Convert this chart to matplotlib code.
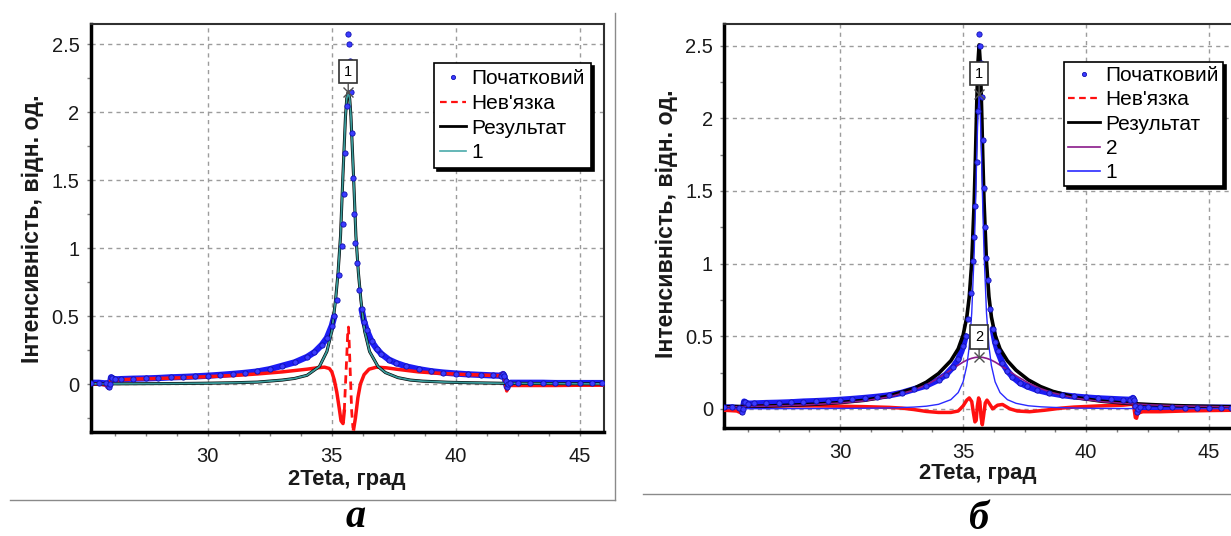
import numpy as np
import matplotlib
matplotlib.use("Agg")
import matplotlib.pyplot as plt
from matplotlib.lines import Line2D

plt.rcParams['font.family'] = ['Liberation Sans', 'DejaVu Sans']

# ---------------- data ----------------
# experimental pattern (shared by both panels)
x_init = [25.30, 25.60, 25.90, 26.00, 26.05, 26.10, 26.15, 26.25, 26.50, 27.00, 27.50, 28.00, 28.50, 29.00,
          29.50, 30.00, 30.50, 31.00, 31.50, 32.00, 32.50, 33.00, 33.50, 34.00, 34.30, 34.60, 34.80, 35.00,
          35.10, 35.20, 35.30, 35.40, 35.45, 35.50, 35.55, 35.60, 35.63, 35.66, 35.69, 35.72, 35.76, 35.80,
          35.85, 35.90, 35.95, 36.00, 36.10, 36.20, 36.30, 36.40, 36.60, 36.80, 37.00, 37.30, 37.60, 38.00,
          38.50, 39.00, 39.50, 40.00, 40.50, 41.00, 41.50, 41.80, 41.90, 41.95, 42.00, 42.05, 42.10, 42.20,
          42.50, 43.00, 43.50, 44.00, 44.50, 45.00, 45.50, 45.90]
y_init = [0.010, 0.010, 0.005, -0.020, 0.000, 0.050, 0.045, 0.035, 0.037, 0.040, 0.042, 0.045, 0.050, 0.053,
          0.057, 0.062, 0.068, 0.075, 0.083, 0.093, 0.110, 0.135, 0.160, 0.200, 0.235, 0.290, 0.340, 0.430,
          0.500, 0.620, 0.800, 1.020, 1.180, 1.400, 1.700, 2.050, 2.300, 2.580, 2.500, 2.380, 2.150, 1.850,
          1.520, 1.250, 1.040, 0.890, 0.690, 0.550, 0.460, 0.400, 0.315, 0.262, 0.222, 0.180, 0.155, 0.130,
          0.110, 0.095, 0.085, 0.078, 0.072, 0.068, 0.064, 0.062, 0.075, 0.060, 0.020, -0.020, 0.000, 0.010,
          0.010, 0.010, 0.010, 0.008, 0.008, 0.008, 0.008, 0.008]

# panel a: one-component fit
x_fit_a = [25.30, 26.00, 27.00, 28.00, 29.00, 30.00, 31.00, 32.00, 33.00, 33.50, 34.00, 34.50, 34.80, 35.00,
           35.15, 35.25, 35.35, 35.45, 35.55, 35.60, 35.66, 35.72, 35.77, 35.87, 35.97, 36.07, 36.17, 36.32,
           36.52, 36.86, 37.16, 37.66, 38.16, 38.66, 39.66, 40.66, 42.00, 43.00, 44.00, 45.00, 45.90]
y_result_a = [0.002, 0.002, 0.003, 0.004, 0.005, 0.007, 0.010, 0.015, 0.030, 0.042, 0.065, 0.130, 0.240, 0.390,
              0.620, 0.820, 1.090, 1.550, 1.970, 2.100, 2.150, 2.100, 1.970, 1.550, 1.090, 0.820, 0.620, 0.390,
              0.240, 0.130, 0.085, 0.048, 0.030, 0.022, 0.014, 0.010, 0.006, 0.005, 0.004, 0.003, 0.002]
y_comp1_a = [0.002, 0.002, 0.003, 0.004, 0.005, 0.007, 0.010, 0.015, 0.030, 0.042, 0.065, 0.130, 0.240, 0.390,
             0.620, 0.820, 1.090, 1.550, 1.970, 2.100, 2.150, 2.100, 1.970, 1.550, 1.090, 0.820, 0.620, 0.390,
             0.240, 0.130, 0.085, 0.048, 0.030, 0.022, 0.014, 0.010, 0.006, 0.005, 0.004, 0.003, 0.002]
x_res_a = [25.30, 25.70, 25.95, 26.00, 26.05, 26.10, 26.15, 26.30, 27.00, 28.00, 29.00, 30.00, 31.00, 32.00,
           33.00, 33.50, 34.00, 34.40, 34.70, 34.90, 35.00, 35.10, 35.20, 35.30, 35.37, 35.45, 35.50, 35.55,
           35.60, 35.64, 35.67, 35.70, 35.75, 35.80, 35.85, 35.88, 35.95, 36.05, 36.15, 36.30, 36.50, 36.80,
           37.20, 37.60, 38.50, 39.50, 40.50, 41.50, 41.80, 41.90, 41.95, 42.00, 42.05, 42.10, 42.20, 43.00,
           44.00, 45.00, 45.90]
y_res_a = [0.000, 0.000, -0.010, -0.030, 0.000, 0.050, 0.040, 0.030, 0.037, 0.042, 0.047, 0.055, 0.063, 0.075,
           0.090, 0.100, 0.110, 0.120, 0.125, 0.115, 0.090, 0.030, -0.060, -0.180, -0.270, -0.290, -0.200, 0.000,
           0.200, 0.380, 0.420, 0.300, 0.050, -0.200, -0.320, -0.330, -0.250, -0.100, 0.000, 0.070, 0.110, 0.125,
           0.120, 0.110, 0.090, 0.078, 0.070, 0.064, 0.062, 0.080, 0.050, 0.000, -0.050, -0.020, -0.010, -0.010,
           -0.010, -0.008, -0.008]

# panel b: two-component fit
x_fit_b = [25.30, 26.00, 27.00, 28.00, 29.00, 30.00, 31.00, 32.00, 33.00, 33.50, 34.00, 34.50, 34.80, 35.00,
           35.15, 35.25, 35.35, 35.45, 35.50, 35.55, 35.60, 35.65, 35.70, 35.75, 35.80, 35.85, 35.95, 36.05,
           36.15, 36.30, 36.50, 36.80, 37.15, 37.65, 38.15, 38.65, 39.65, 40.65, 41.65, 42.65, 43.65, 44.65,
           45.90]
y_result_b = [0.014, 0.016, 0.019, 0.025, 0.032, 0.043, 0.059, 0.088, 0.141, 0.183, 0.243, 0.331, 0.413, 0.508,
              0.632, 0.772, 1.008, 1.427, 1.730, 2.075, 2.376, 2.506, 2.376, 2.075, 1.730, 1.427, 1.008, 0.772,
              0.632, 0.508, 0.413, 0.331, 0.266, 0.199, 0.153, 0.120, 0.076, 0.052, 0.038, 0.029, 0.022, 0.018,
              0.014]
y_comp2_b = [0.013, 0.015, 0.018, 0.023, 0.030, 0.040, 0.055, 0.082, 0.129, 0.165, 0.212, 0.268, 0.301, 0.322,
             0.335, 0.342, 0.348, 0.352, 0.354, 0.355, 0.356, 0.356, 0.356, 0.355, 0.354, 0.352, 0.348, 0.342,
             0.335, 0.322, 0.301, 0.268, 0.228, 0.178, 0.139, 0.110, 0.071, 0.049, 0.036, 0.027, 0.021, 0.017,
             0.013]
y_comp1_b = [0.001, 0.001, 0.001, 0.0015, 0.002, 0.003, 0.004, 0.006, 0.012, 0.018, 0.031, 0.063, 0.112, 0.186,
             0.297, 0.430, 0.660, 1.075, 1.376, 1.720, 2.020, 2.150, 2.020, 1.720, 1.376, 1.075, 0.660, 0.430,
             0.297, 0.186, 0.112, 0.063, 0.038, 0.021, 0.014, 0.010, 0.005, 0.003, 0.002, 0.002, 0.001, 0.001,
             0.001]
x_res_b = [25.30, 25.80, 26.00, 26.05, 26.10, 26.20, 26.50, 27.00, 28.00, 29.00, 30.00, 31.00, 32.00, 32.50,
           33.00, 33.50, 34.00, 34.50, 34.80, 35.00, 35.15, 35.25, 35.35, 35.42, 35.48, 35.53, 35.58, 35.63,
           35.68, 35.73, 35.78, 35.83, 35.90, 35.97, 36.05, 36.20, 36.40, 36.60, 36.90, 37.20, 37.70, 38.30,
           39.00, 39.50, 40.50, 41.50, 41.80, 41.90, 41.95, 42.00, 42.05, 42.10, 42.30, 43.00, 44.00, 45.00,
           45.90]
y_res_b = [-0.010, -0.015, -0.030, 0.000, 0.030, 0.020, 0.015, 0.018, 0.020, 0.020, 0.018, 0.015, 0.010, 0.005,
           -0.005, -0.018, -0.025, -0.025, -0.015, 0.020, 0.060, 0.075, 0.050, -0.030, -0.090, -0.080, 0.020,
           0.075, 0.050, -0.060, -0.110, -0.050, 0.040, 0.060, 0.040, 0.000, 0.025, 0.030, 0.000, -0.015, -0.020,
           -0.010, 0.005, 0.012, 0.020, 0.025, 0.030, 0.035, 0.000, -0.060, -0.065, -0.030, -0.020, -0.020,
           -0.015, -0.012, -0.010]

# peak markers
peak_x_a = [35.66]
peak_y_a = [2.15]
peak_lbl_a = ['1']
peak_x_b = [35.65, 35.65]
peak_y_b = [2.17, 0.356]
peak_lbl_b = ['1', '2']

# ticks / labels
x_major = [30, 35, 40, 45]
x_labels = ['30', '35', '40', '45']
x_minor = [26.25, 27.5, 28.75, 31.25, 32.5, 33.75, 36.25, 37.5, 38.75, 41.25, 42.5, 43.75]
y_major = [0, 0.5, 1, 1.5, 2, 2.5]
y_labels = ['0', '0.5', '1', '1.5', '2', '2.5']
y_minor = [-0.25, 0.25, 0.75, 1.25, 1.75, 2.25]

lbl_init = 'Початковий'
lbl_res = "Нев'язка"
lbl_fit = 'Результат'
xlabel = '2Teta, град'
ylabel = 'Інтенсивність, відн. од.'

# ---------------- figure ----------------
W, H = 1231, 536
fig = plt.figure(figsize=(W / 100, H / 100), dpi=100)


def rect(l, t, r, b):
    return [l / W, 1 - b / H, (r - l) / W, (b - t) / H]


axA = fig.add_axes(rect(90.7, 24, 604, 431.7))
axB = fig.add_axes(rect(724, 24, 1233, 427.7))

BLUE = '#1c1cf5'
RED = '#ff1010'


def style(ax, ylim):
    ax.set_xlim(25.28, 45.97)
    ax.set_ylim(*ylim)
    ax.set_xticks(x_major)
    ax.set_xticklabels(x_labels)
    ax.set_xticks(x_minor, minor=True)
    ax.set_yticks(y_major)
    ax.set_yticklabels(y_labels)
    ax.set_yticks([v for v in y_minor if ylim[0] < v < ylim[1]], minor=True)
    ax.set_axisbelow(True)
    ax.grid(True, which='major', color='#9c9c9c', linestyle=(0, (3, 3)), lw=1)
    ax.tick_params(which='major', length=3, width=1, color='#808080', labelsize=14.5,
                   labelcolor='#1a1a1a')
    ax.tick_params(axis='x', which='major', pad=8)
    ax.tick_params(axis='y', which='major', pad=5)
    ax.tick_params(which='minor', length=3, width=1, color='#808080')
    for s in ['left', 'bottom']:
        ax.spines[s].set_linewidth(2.5)
        ax.spines[s].set_color('black')
    for s in ['top', 'right']:
        ax.spines[s].set_linewidth(1.5)
        ax.spines[s].set_color('#303030')


def draw_initial(ax):
    yi = np.array(y_init)
    band = np.where(yi < 0.6, yi, np.nan)
    ax.plot(x_init, band, color=BLUE, lw=4.5, solid_capstyle='round', zorder=2)


def draw_points(ax):
    ax.plot(x_init, y_init, linestyle='none', marker='o', ms=3.8, mfc='#3b3bff',
            mec='#1010b0', mew=0.6, zorder=5)


def peak_marks(ax, xs, ys, lbls):
    for x, y, t in zip(xs, ys, lbls):
        ax.plot([x], [y], marker='x', color='#505050', ms=7, mew=1, zorder=6)
        ax.annotate(t, xy=(x, y), xytext=(0, 14.5), textcoords='offset points',
                    ha='center', va='center', fontsize=10.5, color='black', zorder=7,
                    bbox=dict(boxstyle='square,pad=0.32', fc='white', ec='#303030', lw=1.2),
                    arrowprops=dict(arrowstyle='-', color='#505050', lw=1, shrinkA=0, shrinkB=0))


# ---- panel a ----
style(axA, (-0.35, 2.65))
draw_initial(axA)
xr = np.array(x_res_a)
yr = np.array(y_res_a)
mid = (xr >= 35.5) & (xr <= 35.88)
axA.plot(np.where(xr <= 35.5, xr, np.nan), yr, color=RED, lw=2.5, zorder=3)
axA.plot(np.where(xr >= 35.88, xr, np.nan), yr, color=RED, lw=2.5, zorder=3)
axA.plot(xr[mid], yr[mid], color=RED, lw=2, linestyle=(0, (3, 2)), zorder=3)
axA.plot(x_fit_a, y_result_a, color='black', lw=2.2, zorder=3)
axA.plot(x_fit_a, y_comp1_a, color='#3a9a9a', lw=1.3, zorder=4)
draw_points(axA)
peak_marks(axA, peak_x_a, peak_y_a, peak_lbl_a)

# ---- panel b ----
style(axB, (-0.13, 2.65))
draw_initial(axB)
axB.plot(x_res_b, y_res_b, color=RED, lw=2.5, zorder=3)
axB.plot(x_fit_b, y_result_b, color='black', lw=2.6, zorder=3)
axB.plot(x_fit_b, y_comp2_b, color='#8a1a8a', lw=1.2, zorder=4)
axB.plot(x_fit_b, y_comp1_b, color='#2a2aff', lw=1.0, zorder=4)
draw_points(axB)
peak_marks(axB, peak_x_b, peak_y_b, peak_lbl_b)

# axis labels
for ax, xc, yc, xl, yl in [(axA, 347, 480, 33, 229), (axB, 978, 473, 667, 224)]:
    fig.text(xc / W, 1 - yc / H, xlabel, ha='center', va='center', fontsize=15.9,
             fontweight='bold', color='#1a1a1a')
    fig.text(xl / W, 1 - yl / H, ylabel, ha='center', va='center', fontsize=16.7,
             fontweight='bold', rotation=90, color='#1a1a1a')

# legends
h_init = Line2D([], [], linestyle='none', marker='o', ms=3.0, mfc='#3b3bff', mec='#1010b0', mew=0.6)
h_res = Line2D([], [], color=RED, lw=1.6, linestyle=(0, (3, 2)))
h_fit = Line2D([], [], color='black', lw=2)
h_c1a = Line2D([], [], color='#4aaaaa', lw=1.2)
h_c2b = Line2D([], [], color='#8a1a8a', lw=1.2)
h_c1b = Line2D([], [], color='#2a2aff', lw=1.2)

shadow = {'color': 'black', 'alpha': 1.0}
legA = fig.legend([h_init, h_res, h_fit, h_c1a], [lbl_init, lbl_res, lbl_fit, '1'],
                  loc='upper left', bbox_to_anchor=(434 / W, 1 - 63 / H), bbox_transform=fig.transFigure,
                  fontsize=15, frameon=True, fancybox=False, shadow=shadow, borderaxespad=0,
                  borderpad=0.3, labelspacing=0.27, handlelength=1.25, handletextpad=0.25)
legA.get_frame().set_edgecolor('black')
legA.get_frame().set_linewidth(1.2)
legB = fig.legend([h_init, h_res, h_fit, h_c2b, h_c1b], [lbl_init, lbl_res, lbl_fit, '2', '1'],
                  loc='upper left', bbox_to_anchor=(1064 / W, 1 - 62 / H), bbox_transform=fig.transFigure,
                  fontsize=15, frameon=True, fancybox=False, shadow=shadow, borderaxespad=0,
                  borderpad=0.2, labelspacing=0.25, handlelength=1.55, handletextpad=0.25)
legB.get_frame().set_edgecolor('black')
legB.get_frame().set_linewidth(1.2)

# panel captions
fig.text(356 / W, 1 - 527 / H, 'а', ha='center', va='baseline', fontsize=29,
         family='Liberation Serif', fontweight='bold', fontstyle='italic')
fig.text(978 / W, 1 - 529 / H, 'б', ha='center', va='baseline', fontsize=29,
         family='Liberation Serif', fontweight='bold', fontstyle='italic')

# separator lines of the original layout
fig.add_artist(Line2D([10 / W, 615 / W], [1 - 500 / H, 1 - 500 / H], color='#8a8a8a', lw=1))
fig.add_artist(Line2D([615 / W, 615 / W], [1 - 13 / H, 1 - 500 / H], color='#8a8a8a', lw=1))
fig.add_artist(Line2D([643 / W, 1.0], [1 - 494 / H, 1 - 494 / H], color='#8a8a8a', lw=1))

fig.savefig('out.png', dpi=100)
